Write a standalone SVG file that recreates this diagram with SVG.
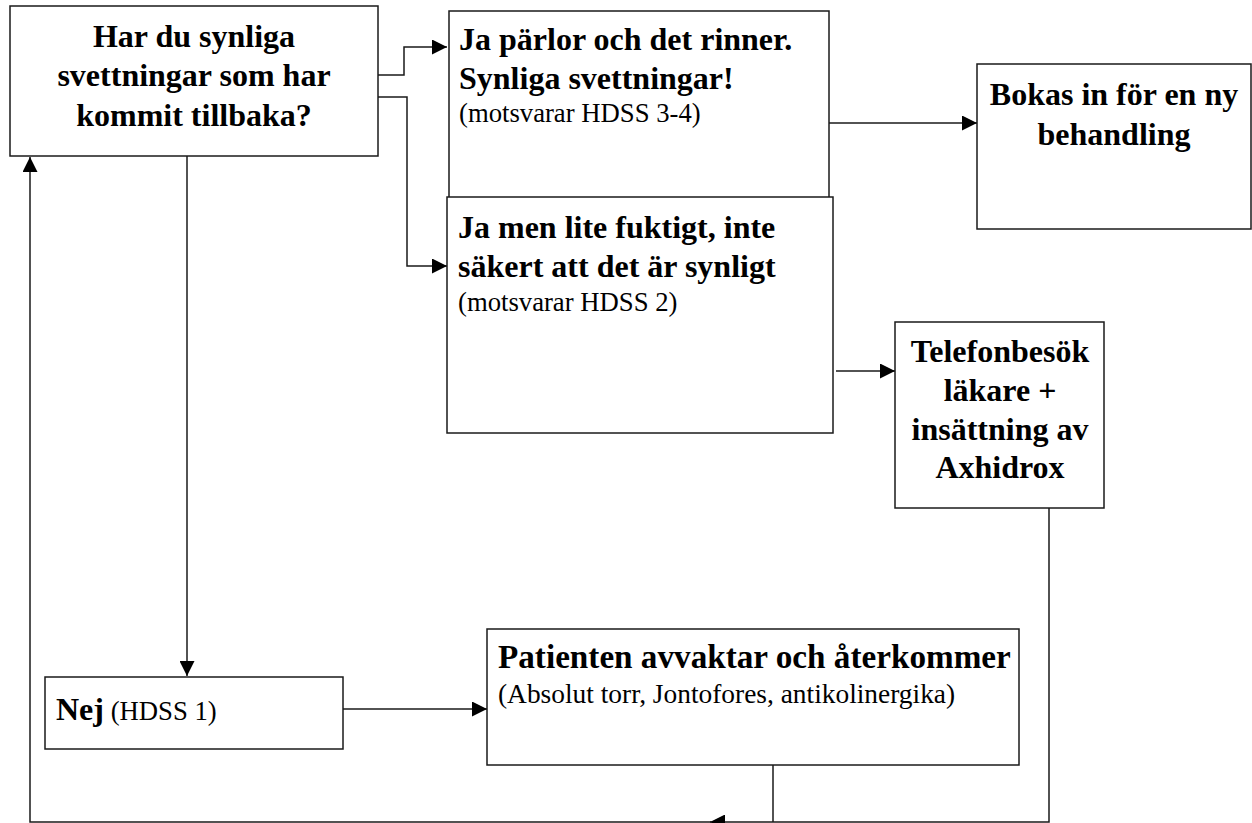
<svg xmlns="http://www.w3.org/2000/svg" width="1252" height="823" viewBox="0 0 1252 823">
<style>
.box{fill:#fff;stroke:#1a1a1a;stroke-width:1.5}
.b{font-family:"Liberation Serif","Times New Roman",serif;font-weight:bold;font-size:32px;fill:#000}
.r{font-family:"Liberation Serif","Times New Roman",serif;font-weight:normal;font-size:26.7px;fill:#000}
.c{text-anchor:middle}
.ln{fill:none;stroke:#1a1a1a;stroke-width:1.5}
</style>
<defs>
<marker id="ah" viewBox="0 0 15 15" refX="15" refY="7.5" markerWidth="15" markerHeight="15" markerUnits="userSpaceOnUse" orient="auto">
<path d="M0,0 L15,7.5 L0,15 Z" fill="#000"/>
</marker>
</defs>
<rect width="1252" height="823" fill="#fff"/>
<g id="connectors">
<path class="ln" d="M378,75 H404 V47 H447" marker-end="url(#ah)"/>
<path class="ln" d="M378,97 H407 V266 H447" marker-end="url(#ah)"/>
<path class="ln" d="M829,123 H977" marker-end="url(#ah)"/>
<path class="ln" d="M836,371 H895" marker-end="url(#ah)"/>
<path class="ln" d="M187,156 V676" marker-end="url(#ah)"/>
<path class="ln" d="M343,709 H487" marker-end="url(#ah)"/>
<path class="ln" d="M1049,508 V822 H710" marker-end="url(#ah)"/>
<path class="ln" d="M773,765 V822"/>
<path class="ln" d="M712,822 H30 V157" marker-end="url(#ah)"/>
</g>
<g id="n1">
<rect class="box" x="10" y="6" width="368" height="150"/>
<text class="b c" x="194" y="47">Har du synliga</text>
<text class="b c" x="194" y="86">svettningar som har</text>
<text class="b c" x="194" y="126">kommit tillbaka?</text>
</g>
<g id="n2">
<rect class="box" x="449" y="11" width="380" height="188"/>
<text class="b" x="459" y="50">Ja pärlor och det rinner.</text>
<text class="b" x="459" y="89">Synliga svettningar!</text>
<text class="r" x="459" y="122">(motsvarar HDSS 3-4)</text>
</g>
<g id="n3">
<rect class="box" x="447" y="197" width="386" height="236"/>
<text class="b" x="458" y="238">Ja men lite fuktigt, inte</text>
<text class="b" x="458" y="277">säkert att det är synligt</text>
<text class="r" x="458" y="311">(motsvarar HDSS 2)</text>
</g>
<g id="n4">
<rect class="box" x="977" y="64" width="274" height="165"/>
<text class="b c" x="1114" y="105">Bokas in för en ny</text>
<text class="b c" x="1114" y="145">behandling</text>
</g>
<g id="n5">
<rect class="box" x="895" y="322" width="209" height="186"/>
<text class="b c" x="1000" y="362">Telefonbesök</text>
<text class="b c" x="1000" y="401">läkare +</text>
<text class="b c" x="1000" y="440">insättning av</text>
<text class="b c" x="1000" y="478">Axhidrox</text>
</g>
<g id="n6">
<rect class="box" x="45" y="677" width="298" height="72"/>
<text x="56" y="720"><tspan class="b">Nej</tspan><tspan class="r"> (HDSS 1)</tspan></text>
</g>
<g id="n7">
<rect class="box" x="487" y="629" width="532" height="136"/>
<text class="b" x="498" y="668" style="font-size:33.2px">Patienten avvaktar och återkommer</text>
<text class="r" x="498" y="703" style="font-size:27.4px">(Absolut torr, Jontofores, antikolinergika)</text>
</g>
</svg>
